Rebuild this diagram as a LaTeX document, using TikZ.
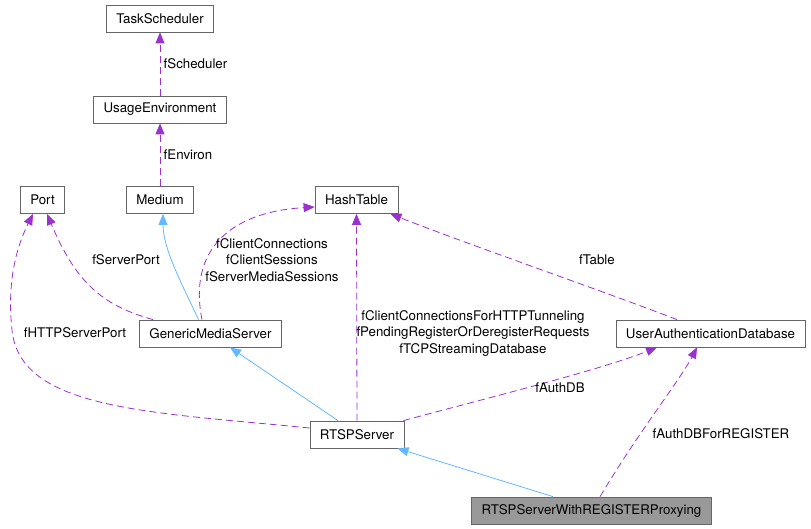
\documentclass[tikz,border=0pt]{standalone}
\usepackage{fontspec}
\setmainfont{TeX Gyre Heros}
\usetikzlibrary{arrows.meta}

\definecolor{relpurple}{HTML}{9A32CD}
\definecolor{inhblue}{HTML}{63B8FF}
\definecolor{boxgray}{HTML}{666666}
\definecolor{curfill}{HTML}{999999}

\begin{document}
\begin{tikzpicture}[x=1pt, y=-1pt, line width=0.8pt,
        every node/.style = {font=\fontsize{13.3}{16.5}\selectfont, text=black},
        main/.style = {draw=boxgray, rectangle, minimum height=27pt, inner xsep=10pt, inner ysep=0pt, fill=white},
        cur/.style = {main, fill=curfill},
        rel/.style = {relpurple, dash pattern=on 7pt off 4pt, -{Triangle[length=11pt,width=9pt]}},
        inh/.style = {inhblue, -{Triangle[length=11pt,width=9pt]}},
        lbl/.style = {align=center, inner sep=1pt} ]
        \useasboundingbox (0,0) rectangle (811,529);

        \node[main] (task) at (160,18.5) {TaskScheduler};
        \node[main] (usage) at (160,109.5) {UsageEnvironment};
        \node[main] (port) at (42.5,200) {Port};
        \node[main] (medium) at (160,200) {Medium};
        \node[main] (ht) at (356.5,200) {HashTable};
        \node[main] (gms) at (210.5,333.5) {GenericMediaServer};
        \node[main] (ua) at (710.5,333.5) {UserAuthenticationDatabase};
        \node[main] (rtsp) at (357,434.5) {RTSPServer};
        \node[cur] (proxy) at (591.5,510.5) {RTSPServerWithREGISTERProxying};

        \draw[rel] (usage) -- (task) node [midway, right] {fScheduler};
        \draw[rel] (medium) -- (usage) node [midway, right] {fEnviron};
        \draw[inh] ([xshift=-12pt]gms.north) .. controls (185,290) and (163,250) .. ([xshift=3pt]medium.south);
        \draw[rel] ([xshift=14pt]gms.north west) .. controls (100,305) and (75,280) .. ([xshift=4.5pt]port.south);
        \draw[rel] ([xshift=-8.5pt]gms.north) .. controls (188,250) and (230,212) .. ([yshift=-7pt]ht.west);
        \draw[rel] ([yshift=6.5pt]rtsp.west) .. controls (150,412) and (20,410) .. (12,330)
                .. controls (6,275) and (20,240) .. ([xshift=-9.5pt]port.south);
        \draw[inh] ([xshift=-19pt]rtsp.north) -- ([xshift=19.5pt]gms.south);
        \draw[rel] (rtsp.north) -- (ht.south);
        \draw[rel] ([xshift=-1pt]rtsp.north east) .. controls (480,400) and (600,370) .. ([xshift=-53.5pt]ua.south);
        \draw[rel] ([xshift=-33.5pt]ua.north) .. controls (600,290) and (470,245) .. ([xshift=-8pt]ht.south east);
        \draw[inh] ([xshift=-38.5pt]proxy.north) -- ([xshift=-7pt]rtsp.south east);
        \draw[rel] ([xshift=8.5pt]proxy.north) .. controls (640,430) and (680,380) .. ([xshift=-13.5pt]ua.south);

        \node[lbl] (lServerPort) at (126,260) {fServerPort};
        \node[lbl] (lClient) at (272,260) {fClientConnections\\fClientSessions\\fServerMediaSessions};
        \node[lbl] (lHTTP) at (75,333) {fHTTPServerPort};
        \node[lbl] (lTunnel) at (473,333) {fClientConnectionsForHTTPTunneling\\fPendingRegisterOrDeregisterRequests\\fTCPStreamingDatabase};
        \node[lbl] (lAuth) at (560,388) {fAuthDB};
        \node[lbl] (lTable) at (597,260) {fTable};
        \node[lbl] (lAuthReg) at (721,434) {fAuthDBForREGISTER};

    \end{tikzpicture}
\end{document}
